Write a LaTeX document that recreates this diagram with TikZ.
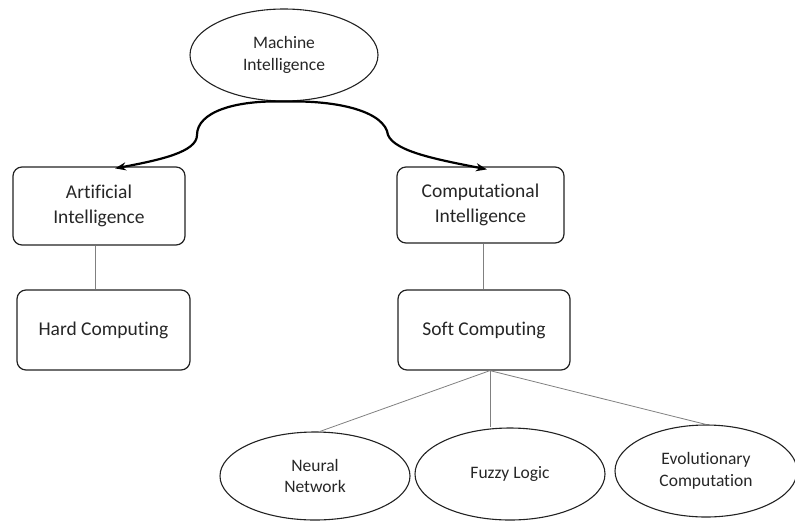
\documentclass[tikz,border=0pt]{standalone}
\usepackage{fontspec}
\setmainfont{Carlito}[Ligatures=NoCommon]
\usetikzlibrary{shapes.geometric,arrows.meta}
\definecolor{txt}{HTML}{262626}
\definecolor{edge}{HTML}{222222}
\definecolor{conn}{HTML}{808080}
\begin{document}
\begin{tikzpicture}[x=1pt,y=-1pt,
  boxnode/.style={draw=edge,line width=1.2pt,rounded corners=9pt,inner sep=0pt,
    align=center,text=txt,font=\fontsize{19.5}{24.5}\selectfont},
  ovalnode/.style={draw=edge,line width=1.1pt,ellipse,inner sep=0pt,
    align=center,text=txt,font=\fontsize{17.5}{21.5}\selectfont},
  thinline/.style={draw=conn,line width=0.8pt},
  curvearrow/.style={draw=black,line width=2.2pt,{Stealth[length=11pt,width=8pt]}-{Stealth[length=11pt,width=8pt]}}]
\useasboundingbox (0,0) rectangle (795,520);
\node[ovalnode,minimum width=188pt,minimum height=92pt] (MI) at (284,55) {Machine\\Intelligence};
\node[boxnode,minimum width=172pt,minimum height=78pt] (AI) at (99,206) {Artificial\\Intelligence};
\node[boxnode,minimum width=173pt,minimum height=80pt] (HC) at (103.5,330) {Hard Computing};
\node[boxnode,minimum width=167pt,minimum height=76pt] (CI) at (480.5,205) {Computational\\Intelligence};
\node[boxnode,minimum width=172pt,minimum height=80pt] (SC) at (484,330) {Soft Computing};
\node[ovalnode,minimum width=190pt,minimum height=88pt] (NN) at (315,476) {Neural\\Network};
\node[ovalnode,minimum width=190pt,minimum height=92pt] (FL) at (510,474) {Fuzzy Logic};
\node[ovalnode,minimum width=182pt,minimum height=92pt] (EC) at (706,471) {Evolutionary\\Computation};
\coordinate (lt) at ([xshift=16pt,yshift=-2pt]AI.north);
\coordinate (rt) at ([xshift=6.5pt,yshift=-3pt]CI.north);
\coordinate (apex) at ([xshift=6pt]SC.south);
\draw[curvearrow] (lt) .. controls (160,160) and (197,152) .. (197,135)
  .. controls (197,112) and (235,100) .. (MI.south)
  .. controls (340,100) and (385,112) .. (388,135)
  .. controls (395,152) and (440,160) .. (rt);
\draw[thinline] (AI.south -| 95,0) -- (HC.north -| 95,0);
\draw[thinline] (CI.south -| 483,0) -- (SC.north -| 483,0);
\draw[thinline] (apex) -- (NN.84);
\draw[thinline] (apex) -- (FL.north -| apex);
\draw[thinline] (apex) -- (EC.north);
\end{tikzpicture}
\end{document}
